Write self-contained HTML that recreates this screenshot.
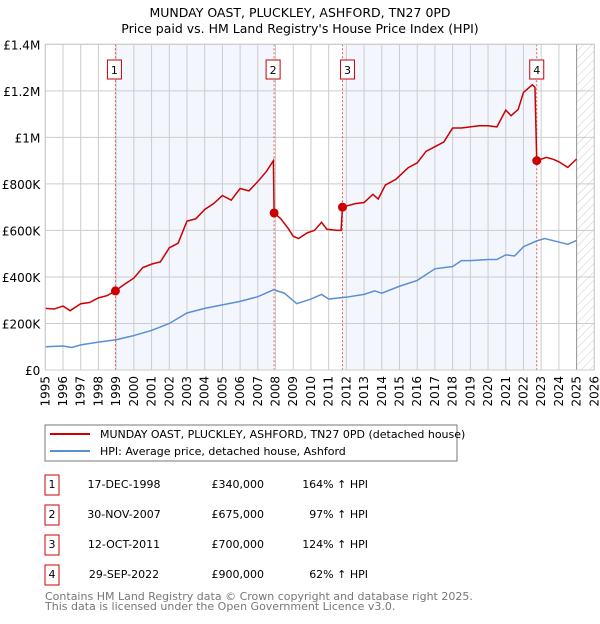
<!DOCTYPE html>
<html><head><meta charset="utf-8"><style>
body{margin:0;background:#fff;font-family:"DejaVu Sans","Liberation Sans",sans-serif;}
svg text{font-family:"DejaVu Sans","Liberation Sans",sans-serif;}
</style></head><body>
<svg id="chart" width="600" height="620" xmlns="http://www.w3.org/2000/svg">
<defs><pattern id="hatch" width="6" height="6" patternUnits="userSpaceOnUse" patternTransform="rotate(45)"><line x1="0" y1="0" x2="0" y2="6" stroke="#ccc" stroke-width="1"/></pattern></defs>
<text x="300" y="17" text-anchor="middle" font-size="12.5">MUNDAY OAST, PLUCKLEY, ASHFORD, TN27 0PD</text>
<text x="300" y="33" text-anchor="middle" font-size="12.5">Price paid vs. HM Land Registry's House Price Index (HPI)</text>
<g id="plot"></g>
<rect x="45" y="425" width="412" height="36" fill="none" stroke="#777"/>
<line x1="50" y1="434" x2="90" y2="434" stroke="#cc0000" stroke-width="2"/>
<text x="100" y="438" font-size="11">MUNDAY OAST, PLUCKLEY, ASHFORD, TN27 0PD (detached house)</text>
<line x1="50" y1="451" x2="90" y2="451" stroke="#5b8fd4" stroke-width="2"/>
<text x="100" y="455" font-size="11">HPI: Average price, detached house, Ashford</text>
<g id="table"></g>
<text x="45" y="600" font-size="11" fill="#777">Contains HM Land Registry data © Crown copyright and database right 2025.</text>
<text x="45" y="610" font-size="11" fill="#777">This data is licensed under the Open Government Licence v3.0.</text>
</svg>
<script>
const redYears=[1995,1995.5,1996,1996.4,1997,1997.5,1998,1998.5,1998.96,1999.5,2000,2000.5,2001,2001.5,2002,2002.5,2003,2003.5,2004,2004.5,2005,2005.5,2006,2006.5,2007,2007.5,2007.88,2007.92,2008.3,2008.7,2009,2009.3,2009.8,2010.2,2010.6,2010.9,2011.5,2011.7,2011.78,2012.5,2013,2013.5,2013.8,2014.2,2014.8,2015.5,2016,2016.5,2017,2017.5,2018,2018.5,2019,2019.5,2020,2020.5,2021,2021.3,2021.7,2022,2022.5,2022.65,2022.75,2023.3,2023.7,2024,2024.5,2025];
const redValues=[265000,262000,275000,255000,285000,290000,310000,320000,340000,370000,395000,440000,455000,465000,525000,545000,640000,650000,690000,715000,750000,730000,780000,770000,810000,855000,900000,675000,650000,610000,575000,565000,590000,600000,635000,605000,600000,600000,700000,715000,720000,755000,735000,795000,820000,870000,890000,940000,960000,980000,1040000,1040000,1045000,1050000,1050000,1045000,1117000,1093000,1120000,1193000,1226000,1215000,900000,914000,905000,895000,871000,907000];
const hpiYears=[1995,1996,1996.5,1997,1998,1999,2000,2001,2002,2003,2004,2005,2006,2007,2007.9,2008.5,2009.2,2010,2010.6,2011,2012,2013,2013.6,2014,2015,2016,2017,2018,2018.5,2019,2020,2020.5,2021,2021.5,2022,2022.75,2023.2,2024,2024.5,2025];
const hpiValues=[100000,103000,97000,108000,120000,130000,148000,170000,200000,245000,265000,280000,295000,315000,345000,330000,285000,305000,325000,305000,313000,325000,340000,330000,360000,385000,435000,445000,470000,470000,475000,475000,495000,490000,530000,555000,565000,550000,540000,557000];
const saleYears=[1998.96,2007.92,2011.78,2022.75];
const salePrices=[340000,675000,700000,900000];
const saleDates=["17-DEC-1998","30-NOV-2007","12-OCT-2011","29-SEP-2022"];
const salePriceLabels=["£340,000","£675,000","£700,000","£900,000"];
const saleHpiLabels=["164% ↑ HPI","97% ↑ HPI","124% ↑ HPI","62% ↑ HPI"];
const yTicks=[0,200000,400000,600000,800000,1000000,1200000,1400000];
const yTickLabels=["£0","£200K","£400K","£600K","£800K","£1M","£1.2M","£1.4M"];
const xTicks=[1995,1996,1997,1998,1999,2000,2001,2002,2003,2004,2005,2006,2007,2008,2009,2010,2011,2012,2013,2014,2015,2016,2017,2018,2019,2020,2021,2022,2023,2024,2025,2026];

const NS="http://www.w3.org/2000/svg";
const X0=45.3,X1=594.3,Y0=370,Y1=44.3;
const x=y=>X0+(y-1995)/31*(X1-X0);
const yv=v=>Y0-v/1400000*(Y0-Y1);
const plot=document.getElementById('plot');
function mk(tag,attrs,parent){const e=document.createElementNS(NS,tag);for(const k in attrs)e.setAttribute(k,attrs[k]);(parent||plot).appendChild(e);return e;}
let e;
e=mk('rect',{x:x(saleYears[0]),y:Y1,width:x(saleYears[1])-x(saleYears[0]),height:Y0-Y1,fill:'#f3f6fd'});


e=mk('rect',{x:x(saleYears[2]),y:Y1,width:x(saleYears[3])-x(saleYears[2]),height:Y0-Y1,fill:'#f3f6fd'});


e=mk('rect',{x:x(2025),y:Y1,width:X1-x(2025),height:Y0-Y1,fill:'url(#hatch)'});


xTicks.forEach((t,i)=>{
 e=mk('line',{x1:x(t),x2:x(t),y1:Y1,y2:Y0,stroke:'#ccc','stroke-width':1});
 
 
 e=mk('text',{x:0,y:0,'font-size':12,'text-anchor':'end',transform:`translate(${x(t)+4},${Y0+6}) rotate(-90)`});
 e.textContent=t;
 
 
});
yTicks.forEach((t,i)=>{
 e=mk('line',{x1:X0,x2:X1,y1:yv(t),y2:yv(t),stroke:'#ccc','stroke-width':1});
 
 
 e=mk('text',{x:X0-5,y:yv(t)+5,'font-size':12,'text-anchor':'end'});
 e.textContent=yTickLabels[i];
 
 
});
e=mk('line',{x1:x(2025),x2:x(2025),y1:Y1,y2:Y0,stroke:'#999','stroke-width':1});


saleYears.forEach((s,i)=>{
 e=mk('line',{x1:x(s),x2:x(s),y1:Y1,y2:Y0,stroke:'#e55','stroke-width':1,'stroke-dasharray':'2,2'});
 
 
});
e=mk('polyline',{points:hpiYears.map((t,i)=>x(t)+','+yv(hpiValues[i])).join(' '),fill:'none',stroke:'#5b8fd4','stroke-width':1.5});


e=mk('polyline',{points:redYears.map((t,i)=>x(t)+','+yv(redValues[i])).join(' '),fill:'none',stroke:'#cc0000','stroke-width':1.5});


saleYears.forEach((s,i)=>{
 e=mk('circle',{cx:x(s),cy:yv(salePrices[i]),r:4.5,fill:'#cc0000'});
 
 
 e=mk('rect',{x:x(s)-10,y:60,width:14,height:19,fill:'#fff',stroke:'#cc0000'});
 e.setAttribute('x',x(s)-(i==0||i==1?8:i==2?2:7));
 
 
 const bx=parseFloat(e.getAttribute('x'))+7;
 e=mk('text',{x:bx,y:74,'font-size':11,'text-anchor':'middle'});
 e.textContent=i+1;
 
 
});
e=mk('rect',{x:X0,y:Y1,width:X1-X0,height:Y0-Y1,fill:'none',stroke:'#ccc'});


const table=document.getElementById('table');
saleYears.forEach((s,i)=>{
 const cy=484+30*i;
 e=mk('rect',{x:45,y:cy-9,width:14,height:20,fill:'#fff',stroke:'#cc0000'},table);
 
 
 e=mk('text',{x:52,y:cy+4,'font-size':11,'text-anchor':'middle'},table);e.textContent=i+1;
 
 
 e=mk('text',{x:124,y:cy+4,'font-size':11,'text-anchor':'middle'},table);e.textContent=saleDates[i];
 
 
 e=mk('text',{x:264,y:cy+4,'font-size':11,'text-anchor':'end'},table);e.textContent=salePriceLabels[i];
 
 
 e=mk('text',{x:368,y:cy+4,'font-size':11,'text-anchor':'end'},table);e.textContent=saleHpiLabels[i];
 
 
});
</script>
</body></html>
